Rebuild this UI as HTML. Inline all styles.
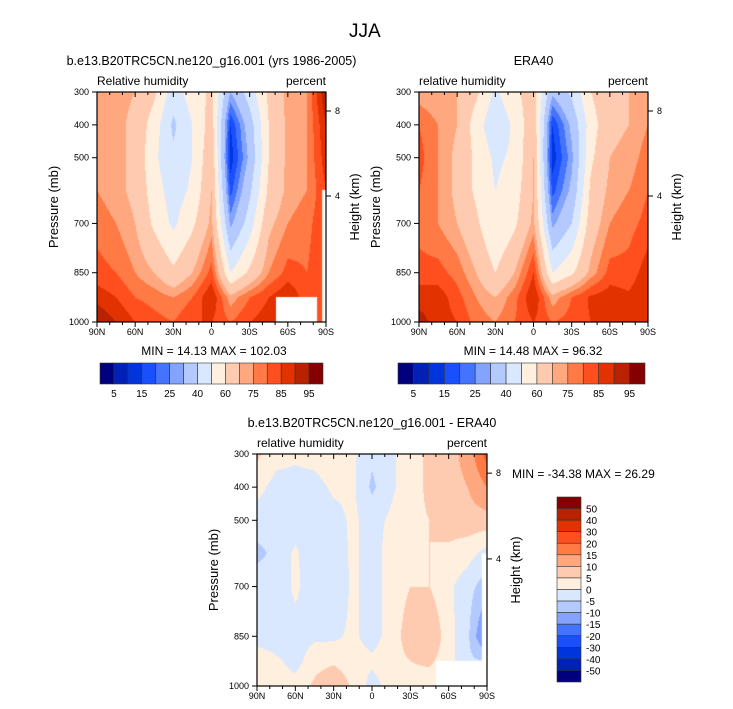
<!DOCTYPE html>
<html><head><meta charset="utf-8"><style>
body{margin:0;background:#fff;width:733px;height:709px;overflow:hidden;position:relative;font-family:"Liberation Sans",sans-serif;color:#000}
.t{position:absolute;white-space:nowrap}
canvas{position:absolute}
</style></head><body>
<div class="t" style="left:349px;top:21px;font-size:19px">JJA</div>
<svg id="ov" width="733" height="709" style="position:absolute;left:0;top:0"></svg>
<script>
const lats=[90,75,60,45,30,15,0,-15,-30,-45,-60,-75,-90];
const pres=[300,400,500,600,700,850,925,1000];
const latLabels=["90N","60N","30N","0","30S","60S","90S"];
const presTicks=[300,400,500,700,850,1000];
const rhLevels=[5,10,15,20,25,30,40,50,60,70,75,80,85,90,95];
const rhLabels=["5","15","25","40","60","75","85","95"];
const dLevels=[-50,-40,-30,-20,-15,-10,-5,0,5,10,15,20,30,40,50];
const dLabels=["50","40","30","20","15","10","5","0","-5","-10","-15","-20","-30","-40","-50"];
const palette=["#00007f","#0021b5","#0034dc","#1a4fff","#4474ff","#83a3ff","#b4caff","#d9e8ff","#ffefdf","#ffcbb0","#ffa87f","#ff7a45","#ff4f1e","#e23200","#b82200","#850000"];
const modelRH=[
[75,75,75,75,78,82,88,95],[72,72,72,72,75,80,85,90],[70,68,68,68,70,75,80,85],
[62,55,52,55,58,70,78,82],[45,38,42,45,48,62,75,80],[55,50,50,52,58,70,80,85],
[62,65,68,70,72,82,90,85],[30,15,12,18,28,50,72,80],[45,35,32,38,45,62,80,85],
[62,60,60,62,68,75,85,88],[72,72,72,72,75,82,90,88],[75,75,75,75,78,80,82,85],
[95,90,88,85,85,85,85,85]];
const eraRH=[
[72,80,82,80,78,82,88,92],[70,75,75,75,75,82,88,88],[70,70,68,68,70,78,82,85],
[62,55,58,58,62,70,75,78],[48,42,48,50,50,60,70,75],[58,52,52,55,58,70,78,80],
[65,68,70,70,72,85,90,85],[32,15,12,18,28,50,72,80],[42,32,28,32,40,58,80,82],
[60,55,58,62,65,72,86,85],[68,68,70,72,75,82,88,85],[70,70,72,75,78,82,86,85],
[72,75,78,80,82,88,90,88]];
const diffRH=[
[6,2,-3,-6,-3,-2,3,5],[2,-2,-4,-4,-3,-3,1,3],[1,-2,-3,1,1,-2,-2,2],
[2,-2,-3,-4,-3,-1,3,6],[4,1,-2,-3,-4,-1,4,10],[1,1,1,1,1,1,2,4],
[-4,-6,-2,-2,-2,-2,1,-2],[-1,-1,1,2,2,2,3,2],[3,3,4,4,5,8,5,3],
[6,6,5,5,5,10,6,2],[8,8,7,4,1,2,2,0],[12,10,8,2,-3,-4,-4,0],
[22,15,8,-2,-8,-18,-5,0]];

const SVGNS="http://www.w3.org/2000/svg";
const ov=document.getElementById('ov');
function el(tag,attrs,txt){const e=document.createElementNS(SVGNS,tag);for(const k in attrs)e.setAttribute(k,attrs[k]);if(txt!==undefined)e.textContent=txt;ov.appendChild(e);return e;}
function interp(grid,lat,p){
  let fi=(90-lat)/15; let i=Math.min(Math.floor(fi),lats.length-2); let tx=fi-i;
  let j=0; while(j<pres.length-2&&p>pres[j+1])j++;
  let ty=(p-pres[j])/(pres[j+1]-pres[j]);
  const a=grid[i][j],b=grid[i+1][j],c=grid[i][j+1],d=grid[i+1][j+1];
  return a*(1-tx)*(1-ty)+b*tx*(1-ty)+c*(1-tx)*ty+d*tx*ty;
}
function hex(h){return [parseInt(h.substr(1,2),16),parseInt(h.substr(3,2),16),parseInt(h.substr(5,2),16)];}
const pal=palette.map(hex);
function panel(cfg){
  const {x,y,w,h,grid,levels,name}=cfg;
  const cv=document.createElement('canvas');cv.width=w;cv.height=h;cv.style.left=x+'px';cv.style.top=y+'px';
  
  
  document.body.insertBefore(cv,ov);
  const ctx=cv.getContext('2d');const img=ctx.createImageData(w,h);
  const xs=v=>(90-v)/180*w; const ys=p=>(p-300)/700*h;
  for(let py=0;py<h;py++){const p=300+700*(py+0.5)/h;
    for(let px=0;px<w;px++){const lat=90-180*(px+0.5)/w;const v=interp(grid,lat,p);
      let k=0;while(k<levels.length&&v>=levels[k])k++;const c=pal[k];const o=(py*w+px)*4;
      img.data[o]=c[0];img.data[o+1]=c[1];img.data[o+2]=c[2];img.data[o+3]=255;}}
  ctx.putImageData(img,0,0);
  ctx.fillStyle='#fff';
  if(cfg.missing){for(const m of cfg.missing)ctx.fillRect(xs(m[0]),ys(m[1]),xs(m[2])-xs(m[0]),h-ys(m[1]));}
  el('rect',{x:x,y:y,width:w,height:h,fill:'none',stroke:'#000','stroke-width':1.2,});
  for(let k=0;k<=18;k++){const tx=x+k*w/18;const big=k%3===0;
    el('line',{x1:tx,y1:y+h,x2:tx,y2:y+h+(big?5:3),stroke:'#000'});
    el('line',{x1:tx,y1:y,x2:tx,y2:y+(big?5:3),stroke:'#000'});}
  latLabels.forEach((l,k)=>{el('text',{x:x+k*w/6,y:y+h+13,'font-size':9,'text-anchor':'middle',},l);});
  presTicks.forEach(p=>{const ty=y+ys(p);el('line',{x1:x-5,y1:ty,x2:x,y2:ty,stroke:'#000'});
    el('text',{x:x-8,y:ty+3,'font-size':9,'text-anchor':'end',},p);});
  [[8,111-92],[4,196-92]].forEach(([lab,oy])=>{const ty=y+oy*h/230;el('line',{x1:x+w,y1:ty,x2:x+w+5,y2:ty,stroke:'#000'});
    el('text',{x:x+w+9,y:ty+3,'font-size':9,},lab);});
  el('text',{x:0,y:0,'font-size':13,'text-anchor':'middle',transform:`translate(${x-39},${y+h/2}) rotate(-90)`,},'Pressure (mb)');
  el('text',{x:0,y:0,'font-size':13,'text-anchor':'middle',transform:`translate(${x+w+33},${y+h/2}) rotate(-90)`,},'Height (km)');
  el('text',{x:x,y:y-7,'font-size':12,},cfg.left);
  el('text',{x:x+w,y:y-7,'font-size':12,'text-anchor':'end',},'percent');
  el('text',{x:x+w/2,y:y-27,'font-size':12.5,'text-anchor':'middle',},cfg.title);
}
panel({x:97,y:92,w:229,h:230,grid:modelRH,levels:rhLevels,name:'model-panel',left:'Relative humidity',title:'b.e13.B20TRC5CN.ne120_g16.001 (yrs 1986-2005)',missing:[[-50.7,924,-83],[-87,598,-90]]});
panel({x:419,y:92,w:229,h:230,grid:eraRH,levels:rhLevels,name:'era40-panel',left:'relative humidity',title:'ERA40'});
panel({x:257,y:454,w:230,h:232,grid:diffRH,levels:dLevels,name:'diff-panel',left:'relative humidity',title:'b.e13.B20TRC5CN.ne120_g16.001 - ERA40',missing:[[-50,924,-86],[-86,600,-90]]});
el('text',{x:214,y:355,'font-size':12,'text-anchor':'middle',},'MIN = 14.13  MAX = 102.03');
el('text',{x:533,y:355,'font-size':12,'text-anchor':'middle',},'MIN = 14.48  MAX = 96.32');
el('text',{x:512,y:478,'font-size':12,},'MIN = -34.38  MAX = 26.29');
function hbar(x0,x1,name){const bw=(x1-x0)/16;
  palette.forEach((c,k)=>{const r=el('rect',{x:x0+k*bw,y:363,width:bw,height:21,fill:c,stroke:'#333','stroke-width':0.6});
    });
  rhLabels.forEach((l,k)=>{el('text',{x:x0+(1+2*k)*bw,y:397,'font-size':10,'text-anchor':'middle',},l);});}
hbar(100,323,'model-colorbar');hbar(398,645,'era40-colorbar');
(function(){const x0=557,y0=497,bh=185/16;
  palette.slice().reverse().forEach((c,k)=>{const r=el('rect',{x:x0,y:y0+k*bh,width:24,height:bh,fill:c,stroke:'#333','stroke-width':0.6});
    });
  dLabels.forEach((l,k)=>{el('text',{x:x0+29,y:y0+(k+1)*bh+4,'font-size':10,},l);});})();
</script>
</body></html>
